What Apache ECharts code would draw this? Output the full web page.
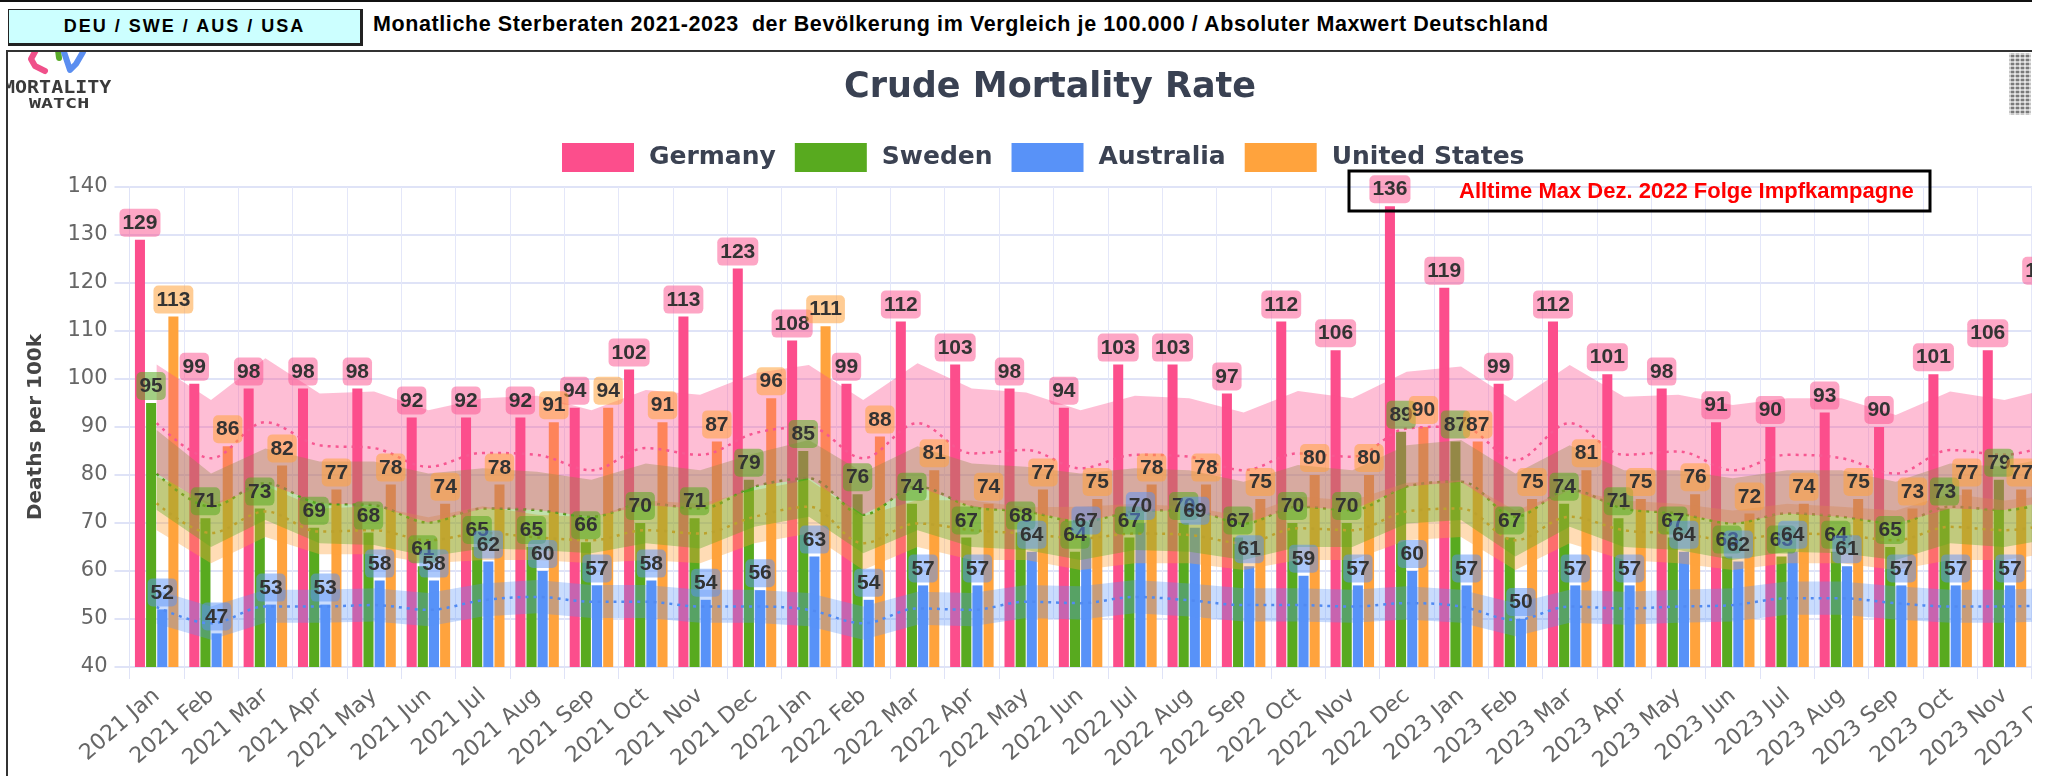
<!DOCTYPE html>
<html><head><meta charset="utf-8">
<script src="https://cdn.jsdelivr.net/npm/echarts@6/dist/echarts.min.js"></script>
<style>
html,body{margin:0;padding:0;background:#fff;width:2054px;height:776px;overflow:hidden;}
#topline{position:absolute;left:0;top:0;width:2032px;height:2px;background:#111;}
#tagbox{position:absolute;left:8px;top:9px;width:351px;height:33px;background:#ccffff;border-left:1px solid #222;border-top:1px solid #222;border-right:3px solid #222;border-bottom:3px solid #222;font:bold 18px 'Liberation Sans',Arial,sans-serif;letter-spacing:2px;text-align:center;line-height:33px;color:#000;}
#headtitle{position:absolute;left:373px;top:12px;font:bold 21.5px 'Liberation Sans',Arial,sans-serif;letter-spacing:0.6px;color:#000;white-space:pre;}
#frameTop{position:absolute;left:6px;top:50px;width:2026px;height:2px;background:#333;}
#frameLeft{position:absolute;left:6px;top:50px;width:2px;height:726px;background:#333;}
#clip{position:absolute;left:8px;top:52px;width:2024px;height:724px;overflow:hidden;}
#chart{position:absolute;left:-8px;top:-52px;width:2100px;height:776px;}
#qr{position:absolute;left:2001px;top:1px;width:22px;height:62px;
 background-image:linear-gradient(90deg,rgba(255,255,255,.55) 50%,transparent 50%),linear-gradient(0deg,#7a7a7a 50%,#c8c8c8 50%);
 background-size:5px 5px,4px 4px;}
</style></head>
<body>
<div id="topline"></div>
<div id="tagbox">DEU / SWE / AUS / USA</div>
<div id="headtitle">Monatliche Sterberaten 2021-2023  der Bevölkerung im Vergleich je 100.000 / Absoluter Maxwert Deutschland</div>
<div id="frameTop"></div>
<div id="frameLeft"></div>
<div id="clip"><div id="chart"></div><div id="qr"></div></div>
<script>
// ---- data ----
const categories = ['2021 Jan','2021 Feb','2021 Mar','2021 Apr','2021 May','2021 Jun','2021 Jul','2021 Aug','2021 Sep','2021 Oct','2021 Nov','2021 Dec',
 '2022 Jan','2022 Feb','2022 Mar','2022 Apr','2022 May','2022 Jun','2022 Jul','2022 Aug','2022 Sep','2022 Oct','2022 Nov','2022 Dec',
 '2023 Jan','2023 Feb','2023 Mar','2023 Apr','2023 May','2023 Jun','2023 Jul','2023 Aug','2023 Sep','2023 Oct','2023 Nov','2023 Dec'];
const yTicks = [40,50,60,70,80,90,100,110,120,130,140];

const germany      = [129,99,98,98,98,92,92,92,94,102,113,123,108,99,112,103,98,94,103,103,97,112,106,136,119,99,112,101,98,91,90,93,90,101,106,119];
const sweden       = [95,71,73,69,68,61,65,65,66,70,71,79,85,76,74,67,68,64,67,70,67,70,70,89,87,67,74,71,67,63,63,64,65,73,79,80];
const australia    = [52,47,53,53,58,58,62,60,57,58,54,56,63,54,57,57,64,67,70,69,61,59,57,60,57,50,57,57,64,62,64,61,57,57,57,57];
const unitedStates = [113,86,82,77,78,74,78,91,94,91,87,96,111,88,81,74,77,75,78,78,75,80,80,90,87,75,81,75,76,72,74,75,73,77,77,80];

const deUpper = [103,95.6,104.3,97,97.4,93.5,96,96.5,93.5,97.7,96.7,101.2,102.9,95.6,103.3,98,97.2,93.5,96.5,96,93,97.5,96,101.5,102.6,95.3,102.9,96.3,96.7,94.6,96,96,92.5,97.4,95.6,98.5];
const deBase  = [90.8,83.5,91,86.2,85.6,81.7,84.6,84.2,81,85.6,84.2,88.7,90,83.5,90.8,84.5,85.2,81.4,84.2,83.8,81,84.5,83.8,89.7,90.1,83.1,90.8,84.2,84.9,81,84.2,83.5,80.3,85.2,84.2,87];
const deLower = [80.3,73.4,78.3,74.1,73.7,70.1,73,72.7,71.3,73.7,73,77.6,79.3,71.7,77.6,73.4,72.4,70.3,72.4,72.7,69.9,73.4,72.7,77.6,78.6,71.3,76.9,73,72,69.9,72,71.3,69.9,73,72.7,75];
const seUpper = [89.4,80.3,85.5,82.8,82.8,80.3,81.4,80.7,79,82.4,81,84.5,87.3,80.5,86,82.4,81.7,80.3,81.4,81,78.6,82.1,81,86.2,87.3,80.3,86.2,81,81,79.3,81,81,78.6,82.4,81.7,84];
const seBase  = [80.3,73.4,78.3,74.1,73.7,70.1,73,72.7,71.3,74.1,73,77.6,79.3,71.7,77.6,73.4,72.4,70.3,72.4,72.7,69.9,73.4,72.7,77.6,78.6,71.3,76.9,73,72,69.9,72,71.3,69.9,73.4,72.7,74.8];
const seLower = [72.7,65,70.6,65.8,65.4,63,64.7,64.4,63.7,65.8,64.7,69.2,71.3,63.7,68.5,65,64.4,62.3,64.4,64,62.3,65,65,69.9,70.6,63,69.2,65,64.4,62.3,64,63.7,62.3,65.8,65,67];
const usUpper = [79.7,74,77.7,73,73.5,71.2,73.5,71.7,71.2,74.7,74,76.8,79,71.4,74.8,74.7,73.3,73.4,74,73.4,71.4,75.5,74.7,78.4,78.9,72.6,76.8,74.7,74,72.6,74,73.4,72.6,76.1,74.7,76];
const usBase  = [74.1,67.9,72.4,68.2,68.5,66.4,67.9,67,66.4,68.5,67.8,71.3,73.4,65.8,69.9,68.5,67.8,66.8,67.8,67.5,65.8,68.9,68.5,72.4,73,66.4,71.3,68.5,67.8,66.4,67.8,67.5,66.4,69.2,68.5,70];
const usLower = [68.5,61.6,67.1,63.5,63.5,61.6,62.3,62.3,61.6,62.3,61.6,65.8,67.8,60.2,65,62.3,62.3,60.2,61.6,61.6,60.2,62.3,62.3,66.4,67.1,60.2,65.8,62.3,61.6,60.2,61.6,61.6,60.2,62.3,62.3,64];
const auUpper = [56,52.6,56.1,56.1,56.4,55.4,57.4,58.1,57.1,57.1,56.1,56.1,55.4,52.6,55.7,55.4,57.1,56.8,58.1,57.4,56.4,56.4,56.1,56.8,56.1,53.3,56.1,55.7,56.1,56.4,57.8,57.8,56.8,56.1,56.1,56.5];
const auBase  = [52.5,49.1,52.6,52.6,52.9,51.9,53.9,54.6,53.6,53.6,52.6,52.6,51.9,49.1,52.2,51.9,53.6,53.3,54.6,53.9,52.9,52.9,52.6,53.3,52.6,49.8,52.6,52.2,52.6,52.9,54.3,54.3,53.3,52.6,52.6,53];
const auLower = [49,45.7,49.2,49.2,49.5,48.5,50.5,51.2,50.2,50.2,49.2,49.2,48.5,45.7,48.8,48.5,50.2,49.9,51.2,50.5,49.5,49.5,49.2,49.9,49.2,46.4,49.2,48.8,49.2,49.5,50.9,50.9,49.9,49.2,49.2,49.6];

// ---- styling ----
const COL = {de:'#fc4e8c', se:'#58aa1f', au:'#5892f8', us:'#ffa33d'};
const FONT = "'DejaVu Sans', sans-serif";
const GRID = '#dfe3f7';
const BARGAP = '11%', CATGAP = '20%';

function labelCfg(bg){
  return {show:true, position:'top', distance:3, formatter:p=>p.value,
    fontFamily:"'Liberation Sans', Arial, sans-serif", fontWeight:'bold', fontSize:21, lineHeight:21,
    color:'#333', backgroundColor:bg, borderRadius:5, padding:[4,3,3,3]};
}
function barSeries(name, data, color){
  return {name, type:'bar', data, xAxisIndex:0, itemStyle:{color}, barGap:BARGAP, barCategoryGap:CATGAP, z:2, silent:true};
}
function labelSeries(name, data, bg){
  return {name, type:'bar', data, xAxisIndex:1, itemStyle:{color:'rgba(0,0,0,0)'}, barGap:BARGAP, barCategoryGap:CATGAP, z:5, silent:true, label:labelCfg(bg)};
}
function baseLine(name, data, color){
  return {name, type:'line', data, symbol:'none', smooth:0.35, z:2, silent:true,
    lineStyle:{color, width:2.5, type:[3,5]}};
}
function band(name, lower, upper, color){
  return [
    {name:name+'-lo', type:'line', stack:name, data:lower, symbol:'none', lineStyle:{opacity:0}, z:3, silent:true},
    {name:name+'-hi', type:'line', stack:name, data:upper.map((u,i)=>+(u-lower[i]).toFixed(2)), symbol:'none',
     lineStyle:{opacity:0}, areaStyle:{color, opacity:1}, z:3, silent:true}
  ];
}

const chart = echarts.init(document.getElementById('chart'), null, {renderer:'canvas'});
const option = {
  animation:false,
  title:{text:'Crude Mortality Rate', left:'center', top:65,
    textStyle:{fontFamily:FONT, fontWeight:'bold', fontSize:35, color:'#394152'}},
  legend:{data:['Germany','Sweden','Australia','United States'], left:557, top:138, icon:'rect',
    itemWidth:72, itemHeight:29, itemGap:19, selectedMode:false,
    textStyle:{fontFamily:FONT, fontWeight:'bold', fontSize:25, color:'#3b4252', padding:[0,0,0,10]}},
  grid:{left:129.5, right:14, top:187, bottom:109, containLabel:false, outerBoundsMode:'none'},
  xAxis:[
    {type:'category', data:categories, boundaryGap:true,
     axisLine:{show:true, lineStyle:{color:GRID, width:2}},
     axisTick:{show:true, length:12, interval:0, lineStyle:{color:GRID, width:1}},
     axisLabel:{interval:0, rotate:41, margin:26, fontFamily:FONT, fontSize:22, color:'#666'},
     splitLine:{show:true, interval:0, lineStyle:{color:'#e4e7f9', width:1}}},
    {type:'category', data:categories, boundaryGap:true, show:false}
  ],
  yAxis:{type:'value', min:yTicks[0], max:yTicks[yTicks.length-1], interval:10,
    name:'Deaths per 100k', nameLocation:'middle', nameGap:84,
    nameTextStyle:{fontFamily:FONT, fontWeight:'bold', fontSize:20, color:'#454545'},
    axisLine:{show:true, lineStyle:{color:GRID, width:1}},
    axisTick:{show:true, length:15, lineStyle:{color:GRID, width:2}},
    axisLabel:{margin:22, fontFamily:FONT, fontSize:21, color:'#666'},
    splitLine:{show:true, lineStyle:{color:GRID, width:2}}},
  series:[
    barSeries('Germany', germany, COL.de),
    barSeries('Sweden', sweden, COL.se),
    barSeries('Australia', australia, COL.au),
    barSeries('United States', unitedStates, COL.us),
    baseLine('DE baseline', deBase, '#f45c94'),
    baseLine('SE baseline', seBase, '#4f9a1a'),
    baseLine('US baseline', usBase, '#f29a35'),
    baseLine('AU baseline', auBase, '#4f86ee'),
    ...band('AU', auLower, auUpper, 'rgba(88,146,248,0.32)'),
    ...band('US', usLower, usUpper, 'rgba(255,163,61,0.38)'),
    ...band('SE', seLower, seUpper, 'rgba(88,170,31,0.37)'),
    ...band('DE', deLower, deUpper, 'rgba(252,78,140,0.37)'),
    labelSeries('lbl Germany', germany, 'rgba(252,78,140,0.5)'),
    labelSeries('lbl Sweden', sweden, 'rgba(88,170,31,0.55)'),
    labelSeries('lbl Australia', australia, 'rgba(88,146,248,0.5)'),
    labelSeries('lbl United States', unitedStates, 'rgba(255,163,61,0.55)')
  ],
  graphic:[
    {type:'rect', z:100, silent:true, shape:{x:1349, y:171, width:581, height:40},
     style:{fill:'none', stroke:'#000', lineWidth:3}},
    {type:'text', z:100, silent:true, x:1459, y:192,
     style:{text:'Alltime Max Dez. 2022 Folge Impfkampagne', fill:'#ff0000',
       font:"bold 22px 'Liberation Sans', Arial, sans-serif", verticalAlign:'middle'}},
    // logo
    {type:'polyline', z:100, silent:true, shape:{points:[[36,50],[31,59],[35,66],[45,71]]},
     style:{stroke:'#f0508a', lineWidth:6, lineCap:'round', lineJoin:'round', fill:null}},
    {type:'polyline', z:100, silent:true, shape:{points:[[58,50],[59,58]]},
     style:{stroke:'#5aac2a', lineWidth:6, lineCap:'round', fill:null}},
    {type:'polyline', z:100, silent:true, shape:{points:[[64,52],[70,70],[76,64],[83,52]]},
     style:{stroke:'#5b8ef0', lineWidth:6, lineCap:'round', lineJoin:'round', fill:null}},
    {type:'text', z:100, silent:true, x:3, y:80, scaleY:0.85,
     style:{text:'MORTALITY', fill:'#3a3a3a', font:"bold 20px 'DejaVu Sans Mono', monospace"}},
    {type:'text', z:100, silent:true, x:29, y:97, scaleY:0.7,
     style:{text:'WATCH', fill:'#3a3a3a', font:"bold 20px 'DejaVu Sans Mono', monospace"}}
  ]
};
chart.setOption(option);
</script>
</body></html>
